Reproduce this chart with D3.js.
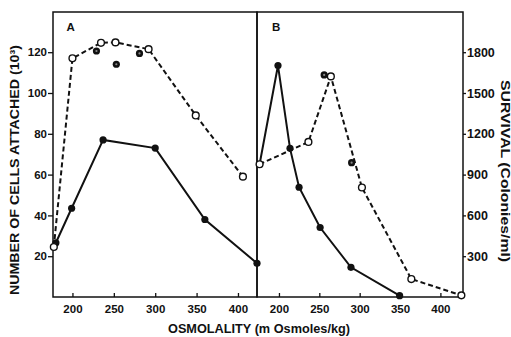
<!DOCTYPE html>
<html><head><meta charset="utf-8">
<script src="https://cdn.jsdelivr.net/npm/d3@7"></script>
<style>
body{margin:0;background:#fff;}
text{font-family:"Liberation Sans",Arial,sans-serif;font-weight:bold;fill:#111;}
</style></head>
<body><svg id="c" width="511" height="337"></svg>
<script>
// Panel A: cells attached (10^3)
const aOpenX = [177.5, 200, 234.5, 252, 292, 349, 406];
const aOpenY = [24.5, 117, 124.6, 124.8, 121.5, 89, 59];
const aSolidX = [180, 199, 237, 300, 360, 423];
const aSolidY = [26.6, 43.5, 77, 73, 38, 16.5];
const aExtraX = [229, 253, 281];
const aExtraY = [120.6, 114.1, 119.4];
// Panel B: survival (colonies/ml)
const bOpenX = [176, 236.5, 264.3, 302.8, 364, 426];
const bOpenY = [976, 1140, 1622, 805, 132, 12];
const bSolidX = [176, 198.8, 213.7, 224.9, 251, 289.2, 349.5];
const bSolidY = [976, 1702, 1093, 807, 511, 218, 10];
const bExtraX = [256, 290];
const bExtraY = [1633, 988];
const xTicks = [200, 250, 300, 350, 400];
const aYTicks = [20, 40, 60, 80, 100, 120];
const bYTicks = [300, 600, 900, 1200, 1500, 1800];

const svg = d3.select("#c");
const L = 53, M = 257, R = 463, T = 12, B = 297;
const xA = d3.scaleLinear().domain([176.5, 423]).range([L, M]);
const xB = d3.scaleLinear().domain([172.8, 428]).range([M, R]);
const yA = d3.scaleLinear().domain([0, 140]).range([B, 11.4]);
const yB = d3.scaleLinear().domain([0, 2100]).range([B, 11.4]);

function styleAxis(g, fs){
  g.select(".domain").remove();
  g.selectAll("line").attr("stroke","#111").attr("stroke-width",1.3);
  g.selectAll("text").style("font-size",fs+"px").style("font-family","Liberation Sans, Arial, sans-serif").style("font-weight","bold").attr("fill","#111");
}
svg.append("g").attr("transform",`translate(0,${B})`)
  .call(d3.axisBottom(xA).tickValues(xTicks).tickFormat(d3.format("d")).tickSize(-4).tickPadding(8)).call(g=>styleAxis(g,11.5));
svg.append("g").attr("transform",`translate(0,${B})`)
  .call(d3.axisBottom(xB).tickValues(xTicks).tickFormat(d3.format("d")).tickSize(-4).tickPadding(8)).call(g=>styleAxis(g,11.5));
svg.append("g").attr("transform",`translate(${L},0)`)
  .call(d3.axisLeft(yA).tickValues(aYTicks).tickFormat(d3.format("d")).tickSize(5).tickPadding(1)).call(g=>styleAxis(g,11.5));
svg.append("g").attr("transform",`translate(${R},0)`)
  .call(d3.axisRight(yB).tickValues(bYTicks).tickFormat(d3.format("d")).tickSize(3).tickPadding(1)).call(g=>styleAxis(g,12.5));

// frames
svg.append("rect").attr("x",L).attr("y",T).attr("width",M-L).attr("height",B-T)
  .attr("fill","none").attr("stroke","#111").attr("stroke-width",1.5);
svg.append("rect").attr("x",M).attr("y",T).attr("width",R-M).attr("height",B-T)
  .attr("fill","none").attr("stroke","#111").attr("stroke-width",1.5);

function series(xs, ys, xs2, ys2, x, y){
  const open = xs.map((d,i)=>[d, ys[i]]);
  const solid = xs2.map((d,i)=>[d, ys2[i]]);
  const line = d3.line().x(d=>x(d[0])).y(d=>y(d[1]));
  svg.append("path").attr("d",line(solid)).attr("fill","none").attr("stroke","#111").attr("stroke-width",2);
  svg.append("path").attr("d",line(open)).attr("fill","none").attr("stroke","#111").attr("stroke-width",2).attr("stroke-dasharray","5,3");
  svg.append("g").selectAll("circle").data(solid).join("circle")
    .attr("cx",d=>x(d[0])).attr("cy",d=>y(d[1])).attr("r",3.6).attr("fill","#111");
  svg.append("g").selectAll("circle").data(open).join("circle")
    .attr("cx",d=>x(d[0])).attr("cy",d=>y(d[1])).attr("r",3.4).attr("fill","#fff").attr("stroke","#111").attr("stroke-width",1.4);
}
function extras(xs, ys, x, y){
  const pts = xs.map((d,i)=>[d, ys[i]]);
  const g = svg.append("g");
  g.selectAll("circle.o").data(pts).join("circle").attr("class","o")
    .attr("cx",d=>x(d[0])).attr("cy",d=>y(d[1])).attr("r",3.6).attr("fill","#111");
  g.selectAll("circle.i").data(pts).join("circle").attr("class","i")
    .attr("cx",d=>x(d[0])).attr("cy",d=>y(d[1])).attr("r",1.1).attr("fill","#888");
}
series(aOpenX, aOpenY, aSolidX, aSolidY, xA, yA);
extras(aExtraX, aExtraY, xA, yA);
series(bOpenX, bOpenY, bSolidX, bSolidY, xB, yB);
extras(bExtraX, bExtraY, xB, yB);

// labels
svg.append("text").attr("x",66.5).attr("y",30.5).style("font-size","11.5px").text("A");
svg.append("text").attr("x",272).attr("y",30.5).style("font-size","11.5px").text("B");
svg.append("text").attr("x",259).attr("y",333).attr("text-anchor","middle")
  .style("font-size","12.5px").attr("textLength",182).attr("lengthAdjust","spacingAndGlyphs")
  .text("OSMOLALITY (m Osmoles/kg)");
svg.append("text").attr("transform","translate(19,170) rotate(-90)").attr("text-anchor","middle")
  .style("font-size","13px").attr("textLength",250).attr("lengthAdjust","spacingAndGlyphs")
  .text("NUMBER OF CELLS ATTACHED (10³)");
svg.append("text").attr("transform","translate(501,171) rotate(90)").attr("text-anchor","middle")
  .style("font-size","12px").attr("textLength",182).attr("lengthAdjust","spacingAndGlyphs")
  .text("SURVIVAL (Colonies/ml)");
</script></body></html>
